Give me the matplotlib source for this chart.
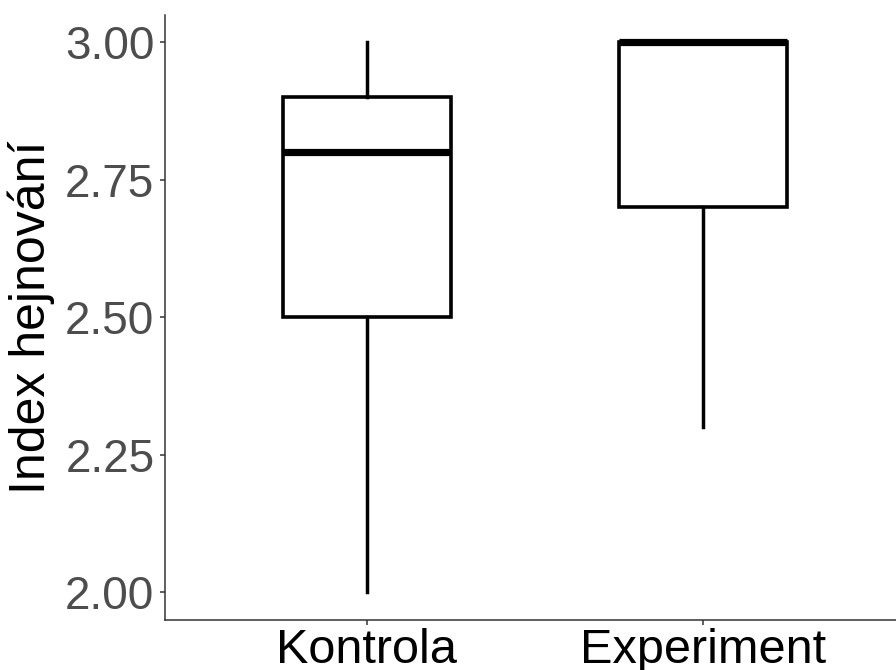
import matplotlib
matplotlib.use("Agg")
import matplotlib.pyplot as plt

# Summary statistics per group
groups = ["Kontrola", "Experiment"]
whisker_low = [2.0, 2.3]
q1 = [2.5, 2.7]
median = [2.8, 3.0]
q3 = [2.9, 3.0]
whisker_high = [3.0, 3.0]
y_ticks = [2.00, 2.25, 2.50, 2.75, 3.00]

plt.rcParams["font.family"] = ["Liberation Sans", "DejaVu Sans"]

fig = plt.figure(figsize=(8.96, 6.7), dpi=100)
ax = fig.add_axes([165 / 896, 1 - 620 / 670, (904.6 - 165) / 896, (620 - 14.5) / 670])

stats = []
for i, g in enumerate(groups):
    stats.append(dict(label=g, whislo=whisker_low[i], q1=q1[i], med=median[i],
                      q3=q3[i], whishi=whisker_high[i], fliers=[]))

ax.bxp(stats, positions=[1, 2], widths=0.5, showcaps=False, showfliers=False,
       patch_artist=True,
       boxprops=dict(facecolor="white", edgecolor="black", linewidth=2.6),
       whiskerprops=dict(color="black", linewidth=2.5),
       medianprops=dict(color="black", linewidth=5.2, solid_capstyle="butt"))

ax.set_xlim(0.4, 2.6)
ax.set_ylim(1.95, 3.05)
ax.set_yticks(y_ticks)
ax.set_yticklabels([f"{v:.2f}" for v in y_ticks])
ax.set_xticks([1, 2])
ax.set_xticklabels(groups)

for s in ["top", "right"]:
    ax.spines[s].set_visible(False)
for s in ["left", "bottom"]:
    ax.spines[s].set_color("#333333")
    ax.spines[s].set_linewidth(1.1)

ax.tick_params(axis="y", labelsize=33, labelcolor="#4D4D4D", color="#333333",
               length=3.6, width=1.1, pad=4)
ax.tick_params(axis="x", labelsize=35, labelcolor="black", color="#333333",
               length=3.6, width=1.1, pad=2)
ax.set_ylabel("Index hejnování", fontsize=36, color="black", labelpad=7)

fig.savefig("out.png", dpi=100)
